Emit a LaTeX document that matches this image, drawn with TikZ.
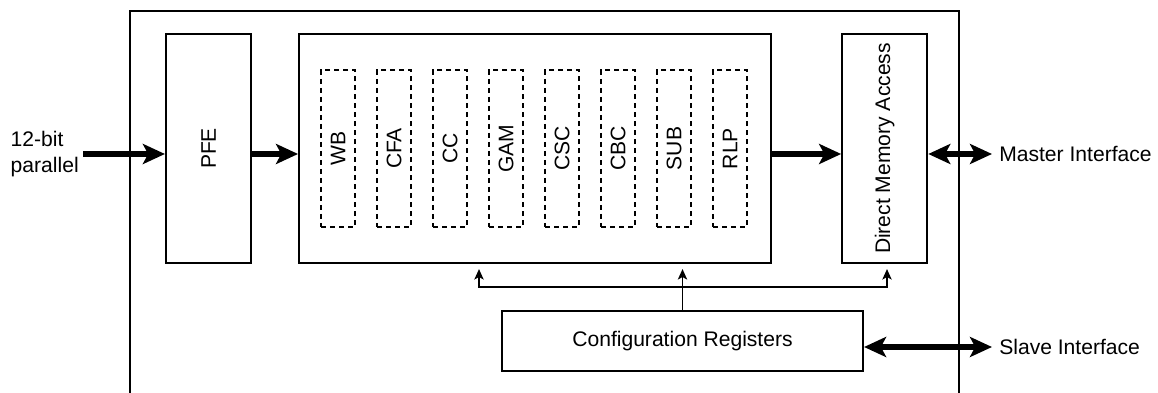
\documentclass[tikz,border=0pt]{standalone}
\usepackage{graphicx}
\usepackage{fontspec}
\setmainfont{Liberation Sans}
\usetikzlibrary{positioning,arrows.meta,calc}
\tikzset{
    % Blocks
    unit/.style={
        rectangle,
        draw,
        line width=1.5pt,
        inner sep=0pt,
        minimum width=2.125cm,
        minimum height=5.725cm
    },
    stage/.style={
        rectangle,
        draw,
        line width=1.3pt,
        dash pattern=on 3.6pt off 2.8pt,
        inner sep=0pt,
        minimum width=0.85cm,
        minimum height=3.925cm
    },
    % Arrows
    dataArrow/.style={line width=4pt, -{Stealth[length=5.5mm, width=5mm, inset=1.3mm]}},
    duplexArrow/.style={line width=4pt, {Stealth[length=5.5mm, width=5mm, inset=1.3mm]}-{Stealth[length=5.5mm, width=5mm, inset=1.3mm]}},
    ctrlArrow/.style={line width=1.4pt, {Stealth[length=2.6mm, width=2.3mm, inset=0.6mm]}-{Stealth[length=2.6mm, width=2.3mm, inset=0.6mm]}},
    ctrlArrowUp/.style={line width=1.4pt, -{Stealth[length=2.6mm, width=2.3mm, inset=0.6mm]}}
}
\begin{document}
\begin{tikzpicture}[
    every node/.style={font=\fontsize{15}{18}\selectfont},
    lbl/.style={inner sep=0pt, anchor=west}
]
\useasboundingbox (0,0) rectangle (28.95,9.825);

% chip outline (open at the bottom)
\draw[line width=1.5pt] (3.25,0) |- (23.975,9.55) -- (23.975,0);

\node[unit] (pfe) at (5.2125,6.1125) {\rotatebox{90}{PFE}};
\node[unit, minimum width=11.8cm, right=1.15cm of pfe] (core) {};
\node[unit, right=1.725cm of core] (dma) {\rotatebox{90}{Direct Memory Access}};
\node[unit, minimum width=9.025cm, minimum height=1.5cm] (cfg) at (17.0625,1.3) {Configuration Registers};

\foreach \name [count=\i] in {WB,CFA,CC,GAM,CSC,CBC,SUB,RLP}
    \node[stage] (stage\i) at ($(core.west)+({1+(\i-1)*1.4},0)$) {\rotatebox{90}{\name}};

% data path
\coordinate (in) at (2.075,5.975);
\coordinate (mst) at (24.8,5.975);
\coordinate (slv) at (24.8,1.15);
\node[inner sep=0pt, anchor=east, align=left] (inLbl) at ([xshift=-1mm]in) {12-bit\\parallel};
\node[lbl] (mstLbl) at ([xshift=1.75mm]mst) {Master Interface};
\node[lbl] (slvLbl) at ([xshift=1.75mm]slv) {Slave Interface};

\draw[dataArrow] (in) -- ([yshift=-1.375mm]pfe.west);
\draw[dataArrow] ([yshift=-1.375mm]pfe.east) -- ([yshift=-1.375mm]core.west);
\draw[dataArrow] ([yshift=-1.375mm]core.east) -- ([yshift=-1.375mm]dma.west);
\draw[duplexArrow] ([yshift=-1.375mm]dma.east) -- (mst);
\draw[duplexArrow] ([yshift=-1.5mm]cfg.east) -- (slv);

% configuration bus
\coordinate (busL) at (11.975,2.65);
\coordinate (busR) at (22.175,2.65);
\draw[ctrlArrow, shorten <=1.25mm, shorten >=1.25mm] (busL |- core.south) -- (busL) -- (busR) -- (busR |- dma.south);
\draw[ctrlArrowUp, shorten >=1.25mm] (cfg.north) -- (cfg.north |- core.south);
\end{tikzpicture}
\end{document}
